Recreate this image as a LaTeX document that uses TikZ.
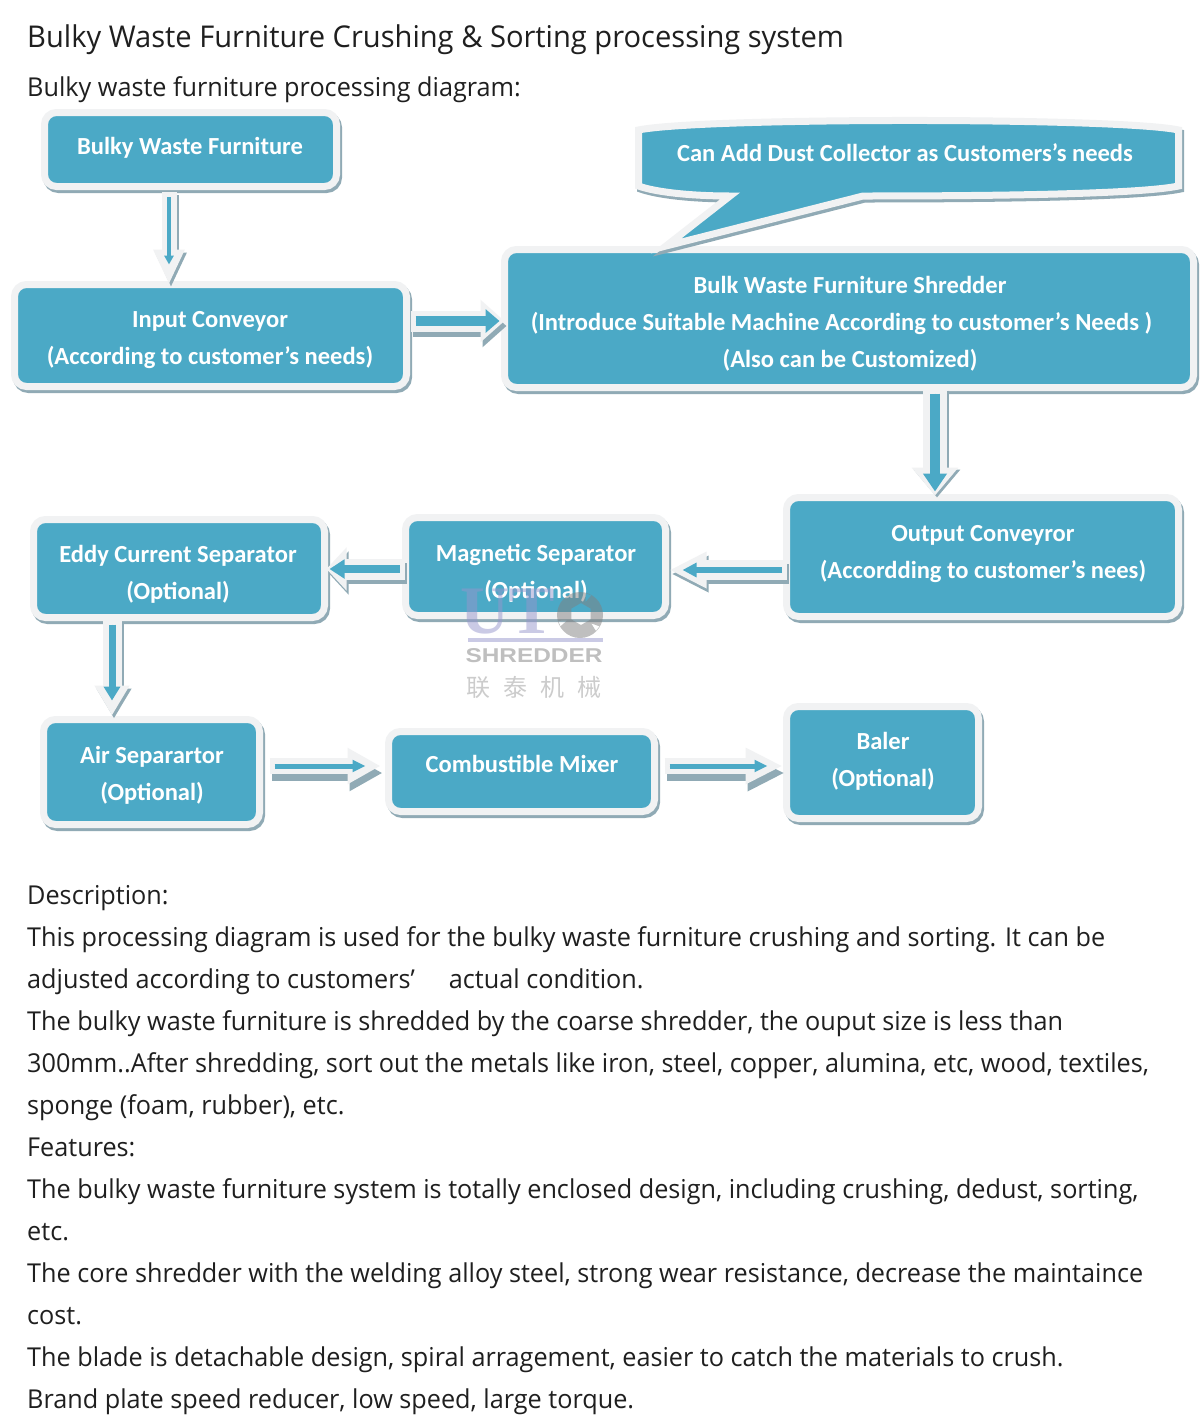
\documentclass[tikz,border=0pt]{standalone}
\usepackage{fontspec}
\usetikzlibrary{arrows.meta,calc}
\setmainfont{Open Sans}
\newfontfamily\boxfont{Carlito}[BoldFont={Carlito Bold}]
\newfontfamily\bodyfont{Open Sans}[FakeStretch=0.97]
\newfontfamily\cjkwm{Noto Sans CJK SC}
\newfontfamily\wmserif{Liberation Serif}
\newfontfamily\wmsans{Liberation Sans}[FakeStretch=1.22]
\definecolor{boxteal}{HTML}{4BA9C6}
\definecolor{rim}{HTML}{F1F2F3}
\definecolor{shadowc}{HTML}{90AAB5}
\definecolor{wmblue}{RGB}{150,150,205}
\tikzset{
  boxshape/.style={draw=rim,fill=boxteal,line width=7pt,rounded corners=12pt,outer sep=0pt,inner sep=0pt,
    preaction={draw=shadowc,fill=shadowc,line width=7pt,transform canvas={shift={(2pt,-3pt)}}}},
  boxtext/.style={font=\boxfont\bfseries\fontsize{24.55}{37}\selectfont,text=white,align=center,inner sep=0pt},
  bodyline/.style={font=\bodyfont\fontsize{26}{30}\selectfont,text=black!88,anchor=base west,inner sep=0pt},
}
% name, x0,y0,x1,y1 (teal area), text centre x,y, text
\newcommand\ubox[8]{%
  \pgfmathsetmacro\bcx{(#2+#4)/2}\pgfmathsetmacro\bcy{(#3+#5)/2}%
  \pgfmathsetmacro\bw{#4-#2+7}\pgfmathsetmacro\bh{#5-#3+7}%
  \node[boxshape,minimum width=\bw pt,minimum height=\bh pt] (#1) at (\bcx,\bcy) {};
  \node[boxtext] (#1text) at (#6,#7) {#8};
}
% start, end, rim shaft, rim head length, rim head width, teal shaft, teal tip retract, teal head length, shadow drop
\newcommand\conn[9]{%
  \draw[draw=shadowc,fill=shadowc,line width=#3pt,transform canvas={shift={(2pt,-#9pt)}},-{Triangle[length=#4pt,width=#5pt]}] #1 -- #2;
  \draw[draw=rim,fill=rim,line width=#3pt,-{Triangle[length=#4pt,width=#5pt]}] #1 -- #2;
  \draw[draw=boxteal,fill=boxteal,line width=#6pt,shorten <=5pt,shorten >=#7pt,-{Triangle[length=#8pt,width=2.3*#6pt]}] #1 -- #2;
}
\begin{document}
\begin{tikzpicture}[x=1pt,y=-1pt]
\useasboundingbox (0,0) rectangle (1200,1419);
\fill[white] (0,0) rectangle (1200,1419);

\node[font=\bodyfont\fontsize{30}{34}\selectfont,text=black!88,anchor=base west,inner sep=0pt] (title) at (27,47) {Bulky Waste Furniture Crushing \& Sorting processing system};
\node[bodyline] (sub) at (27,96) {Bulky waste furniture processing diagram:};

\ubox{bulky}{48}{116}{333}{183}{190}{148}{Bulky Waste Furniture}
\ubox{input}{18}{288}{403}{383}{210}{340}{Input Conveyor\\(According to customer’s needs)}
\ubox{shred}{508}{253}{1190}{384}{850}{324}{Bulk Waste Furniture Shredder\\(Introduce Suitable Machine According to customer’s Needs )\hspace*{17pt}\mbox{}\\(Also can be Customized)}
\ubox{output}{790}{501}{1175}{613}{983}{554}{Output Conveyror\\(Accordding to customer’s nees)}
\ubox{magnet}{409}{521}{662}{612}{536}{573}{Magnetic Separator\\(Optional)}
\ubox{eddy}{37}{523}{321}{614}{178}{574}{Eddy Current Separator\\(Optional)}
\ubox{air}{47}{723}{256}{821}{152}{775}{Air Separartor\\(Optional)}
\ubox{comb}{392}{735}{651}{808}{522}{764}{Combustible Mixer}
\ubox{baler}{790}{710}{975}{815}{883}{761}{Baler\\(Optional)}

% callout, whose tail lies over the shredder box
\begin{scope}[line join=miter,miter limit=20]
\def\callout{(638.5,130) .. controls (700,117.3) and (1120,117.3) .. (1178.5,130) -- (1178.5,186) .. controls (1140,194) and (1000,196) .. (863,196) -- (666,246) -- (730,196) .. controls (690,196) and (655,192) .. (638.5,186) -- cycle}
\draw[draw=shadowc,fill=shadowc,line width=7pt,transform canvas={shift={(2pt,-3pt)}}] \callout;
\draw[draw=rim,fill=boxteal,line width=7pt] \callout;
\end{scope}
\node[boxtext] (dusttext) at (905,153) {Can Add Dust Collector as Customers’s needs};

\conn{([xshift=-21.5pt,yshift=-5.5pt]bulky.south)}{([xshift=-41.5pt]input.north)}{15}{35}{29}{4}{20}{9}{3}
\conn{([xshift=4pt,yshift=14.5pt]input.east)}{([yshift=-2.5pt]shred.west)}{21}{24}{41}{10}{5}{14}{5}
\conn{([xshift=86pt,yshift=-1pt]shred.south)}{([xshift=-47.5pt,yshift=2pt]output.north)}{24}{28}{45}{10}{4}{18}{2}
\conn{([yshift=-13pt]output.west)}{([yshift=-3.5pt,xshift=4pt]magnet.east)}{20}{37}{34}{6}{13}{14}{4}
\conn{([yshift=-2.5pt,xshift=-1pt]magnet.west)}{([yshift=-0.5pt,xshift=2pt]eddy.east)}{21}{20}{42}{8}{3}{15}{4}
\conn{([xshift=-67pt,yshift=-2pt]eddy.south)}{([xshift=-39.5pt,yshift=4pt]air.north)}{19}{30}{33}{7}{15}{14}{3}
\conn{([xshift=10pt,yshift=6pt]air.east)}{([xshift=-8pt,yshift=5.5pt]comb.west)}{16}{33}{34}{5}{15}{13}{7}
\conn{([xshift=10pt,yshift=5.5pt]comb.east)}{([xshift=-4pt,yshift=-3.5pt]baler.west)}{16}{37}{34}{5}{15}{13}{7}

% watermark
\begin{scope}[opacity=.5]
\node[font=\wmserif\bfseries\fontsize{68}{68}\selectfont,text=wmblue,inner sep=0pt] (wmut) at (508,612) {UT};
\fill[gray,even odd rule] (580,615) circle (23)
  ([shift={(581,614)}]90:11) -- ([shift={(581,614)}]30:11) -- ([shift={(581,614)}]-30:11) -- ([shift={(581,614)}]-90:11) -- ([shift={(581,614)}]-150:11) -- ([shift={(581,614)}]150:11) -- cycle
  ([shift={(580,615)}]30:22.6) -- ([shift={(580,615)}]45:22.6) -- ([shift={(580,615)}]37:14) -- cycle
  ([shift={(580,615)}]150:22.6) -- ([shift={(580,615)}]165:22.6) -- ([shift={(580,615)}]157:14) -- cycle
  ([shift={(580,615)}]-75:22.6) -- ([shift={(580,615)}]-60:22.6) -- ([shift={(580,615)}]-67:14) -- cycle;
\fill[wmblue] (468,638) rectangle (603,642);
\end{scope}
\node[font=\wmsans\bfseries\fontsize{20}{20}\selectfont,text=black!25,inner sep=0pt] (wmsh) at (534,656) {SHREDDER};
\node[font=\cjkwm\fontsize{24}{24}\selectfont,text={black!20},inner sep=0pt] (wmcn) at (534,687) {联\hspace{13pt}泰\hspace{13pt}机\hspace{13pt}械};

\node[bodyline] (d1) at (27,904) {Description:};
\node[bodyline] (d2) at (27,946) {This processing diagram is used for the bulky waste furniture crushing and sorting. It can be};
\node[bodyline] (d3) at (27,988) {adjusted according to customers’\hspace{34pt}actual condition.};
\node[bodyline] (d4) at (27,1030) {The bulky waste furniture is shredded by the coarse shredder, the ouput size is less than};
\node[bodyline] (d5) at (27,1072) {300mm..After shredding, sort out the metals like iron, steel, copper, alumina, etc, wood, textiles,};
\node[bodyline] (d6) at (27,1114) {sponge (foam, rubber), etc.};
\node[bodyline] (d7) at (27,1156) {Features:};
\node[bodyline] (d8) at (27,1198) {The bulky waste furniture system is totally enclosed design, including crushing, dedust, sorting,};
\node[bodyline] (d9) at (27,1240) {etc.};
\node[bodyline] (d10) at (27,1282) {The core shredder with the welding alloy steel, strong wear resistance, decrease the maintaince};
\node[bodyline] (d11) at (27,1324) {cost.};
\node[bodyline] (d12) at (27,1366) {The blade is detachable design, spiral arragement, easier to catch the materials to crush.};
\node[bodyline] (d13) at (27,1408) {Brand plate speed reducer, low speed, large torque.};
\end{tikzpicture}
\end{document}
